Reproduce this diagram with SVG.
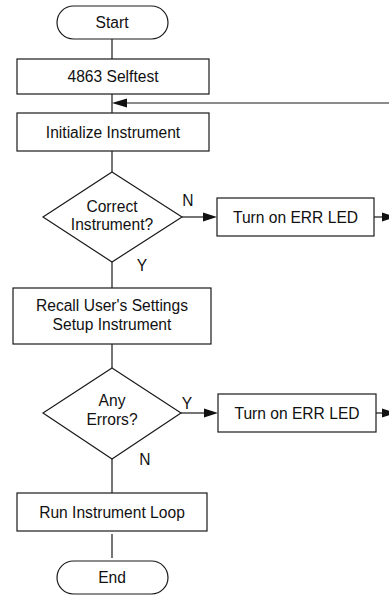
<svg xmlns="http://www.w3.org/2000/svg" width="389" height="595" viewBox="0 0 389 595">
<style>
.s{fill:#fff;stroke:#1a1a1a;stroke-width:1.2}
.t{font-family:"Liberation Sans",Arial,sans-serif;font-size:15.6px;fill:#111;text-anchor:middle;dominant-baseline:central}
.c{fill:none;stroke:#1a1a1a;stroke-width:1.2}
.a{fill:#111;stroke:none}
</style>
<rect width="389" height="595" fill="#fff"/>
<g id="connectors">
<line class="c" x1="112" y1="39" x2="112" y2="59"/>
<line class="c" x1="112" y1="94" x2="112" y2="113"/>
<line class="c" x1="389" y1="103" x2="124" y2="103"/>
<polygon class="a" points="112,103 127,98.5 127,107.5"/>
<line class="c" x1="112" y1="151" x2="112" y2="172"/>
<line class="c" x1="182" y1="217" x2="204" y2="217"/>
<polygon class="a" points="217,217 203,212.5 203,221.5"/>
<line class="c" x1="374" y1="217" x2="383" y2="217"/>
<polygon class="a" points="396,217 382,212.5 382,221.5"/>
<line class="c" x1="112" y1="262" x2="112" y2="288"/>
<line class="c" x1="112" y1="344" x2="112" y2="368"/>
<line class="c" x1="181" y1="413" x2="205" y2="413"/>
<polygon class="a" points="218,413 204,408.5 204,417.5"/>
<line class="c" x1="376" y1="413" x2="383" y2="413"/>
<polygon class="a" points="396,413 382,408.5 382,417.5"/>
<line class="c" x1="112" y1="459" x2="112" y2="493"/>
<line class="c" x1="112" y1="534" x2="112" y2="558"/>
<text class="t" x="188" y="200">N</text>
<text class="t" x="142" y="265">Y</text>
<text class="t" x="187" y="403">Y</text>
<text class="t" x="145" y="459">N</text>
</g>
<g id="start">
<rect class="s" x="57" y="6" width="111" height="33" rx="16.5"/>
<text class="t" x="112" y="22.5">Start</text>
</g>
<g id="selftest">
<rect class="s" x="17" y="59" width="192" height="35"/>
<text class="t" x="113" y="76.5">4863 Selftest</text>
</g>
<g id="init">
<rect class="s" x="17" y="113" width="192" height="38"/>
<text class="t" x="113" y="132">Initialize Instrument</text>
</g>
<g id="correct">
<polygon class="s" points="112,172 182,217 112,262 43,217"/>
<text class="t" x="112" y="206">Correct</text>
<text class="t" x="112" y="224">Instrument?</text>
</g>
<g id="err1">
<rect class="s" x="217" y="198" width="157" height="38"/>
<text class="t" x="295.5" y="217">Turn on ERR LED</text>
</g>
<g id="recall">
<rect class="s" x="13" y="288" width="198" height="56"/>
<text class="t" x="112" y="305">Recall User's Settings</text>
<text class="t" x="112" y="324">Setup Instrument</text>
</g>
<g id="errors">
<polygon class="s" points="112,368 181,413 112,459 43,413"/>
<text class="t" x="112" y="400">Any</text>
<text class="t" x="112" y="419">Errors?</text>
</g>
<g id="err2">
<rect class="s" x="218" y="394" width="158" height="38"/>
<text class="t" x="297" y="413">Turn on ERR LED</text>
</g>
<g id="loop">
<rect class="s" x="17" y="493" width="190" height="38"/>
<text class="t" x="112" y="512">Run Instrument Loop</text>
</g>
<g id="end">
<rect class="s" x="57" y="561" width="111" height="33" rx="16.5"/>
<text class="t" x="112" y="577.5">End</text>
</g>
</svg>
